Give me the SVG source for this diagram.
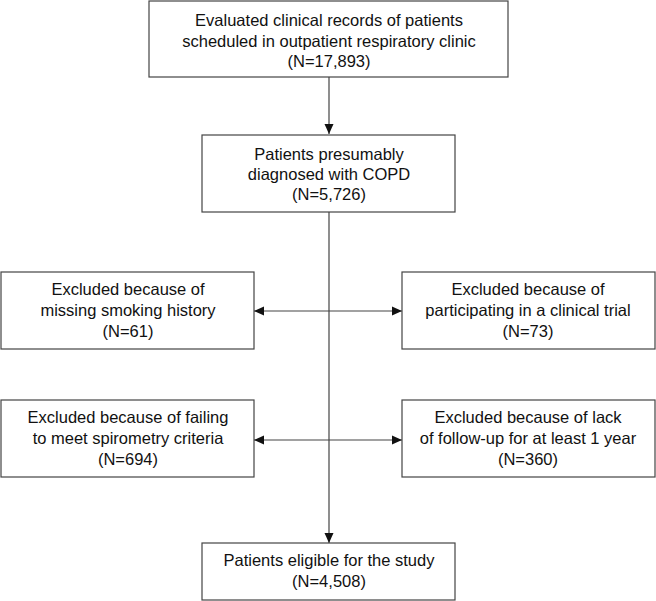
<svg xmlns="http://www.w3.org/2000/svg" width="656" height="601" viewBox="0 0 656 601">
<defs>
<marker id="ah" viewBox="0 0 10 10" refX="10" refY="5" markerWidth="10" markerHeight="10" markerUnits="userSpaceOnUse" orient="auto">
<path d="M0,0.5 L10,5 L0,9.5 Z" fill="#111"/>
</marker>
<style>
.box{fill:#fff;stroke:#444;stroke-width:1.2}
.t{font-family:"Liberation Sans",Arial,sans-serif;font-size:16.5px;fill:#111;text-anchor:middle}
.c{stroke:#444;stroke-width:1.2;fill:none}
</style>
</defs>
<rect width="656" height="601" fill="#fff"/>
<g id="connectors">
<line class="c" x1="329" y1="77" x2="329" y2="134" marker-end="url(#ah)"/>
<line class="c" x1="329" y1="212" x2="329" y2="543" marker-end="url(#ah)"/>
<line class="c" x1="329" y1="311" x2="254" y2="311" marker-end="url(#ah)"/>
<line class="c" x1="329" y1="311" x2="402" y2="311" marker-end="url(#ah)"/>
<line class="c" x1="329" y1="440" x2="254" y2="440" marker-end="url(#ah)"/>
<line class="c" x1="329" y1="440" x2="402" y2="440" marker-end="url(#ah)"/>
</g>
<g id="n1">
<rect class="box" x="149" y="1" width="359" height="76"/>
<text class="t" x="329" y="26">Evaluated clinical records of patients</text>
<text class="t" x="329" y="47">scheduled in outpatient respiratory clinic</text>
<text class="t" x="329" y="67">(N=17,893)</text>
</g>
<g id="n2">
<rect class="box" x="202" y="135" width="253" height="77"/>
<text class="t" x="329" y="160">Patients presumably</text>
<text class="t" x="329" y="180">diagnosed with COPD</text>
<text class="t" x="329" y="200">(N=5,726)</text>
</g>
<g id="n3">
<rect class="box" x="1" y="272" width="253" height="77"/>
<text class="t" x="128" y="295">Excluded because of</text>
<text class="t" x="128" y="316">missing smoking history</text>
<text class="t" x="128" y="337">(N=61)</text>
</g>
<g id="n4">
<rect class="box" x="402" y="272" width="253" height="77"/>
<text class="t" x="528" y="295">Excluded because of</text>
<text class="t" x="528" y="316">participating in a clinical trial</text>
<text class="t" x="528" y="337">(N=73)</text>
</g>
<g id="n5">
<rect class="box" x="1" y="400" width="253" height="77"/>
<text class="t" x="128" y="423">Excluded because of failing</text>
<text class="t" x="128" y="444">to meet spirometry criteria</text>
<text class="t" x="128" y="465">(N=694)</text>
</g>
<g id="n6">
<rect class="box" x="402" y="400" width="253" height="77"/>
<text class="t" x="528" y="423">Excluded because of lack</text>
<text class="t" x="528" y="444">of follow-up for at least 1 year</text>
<text class="t" x="528" y="465">(N=360)</text>
</g>
<g id="n7">
<rect class="box" x="202" y="543" width="253" height="57"/>
<text class="t" x="329" y="566">Patients eligible for the study</text>
<text class="t" x="329" y="587">(N=4,508)</text>
</g>
</svg>
